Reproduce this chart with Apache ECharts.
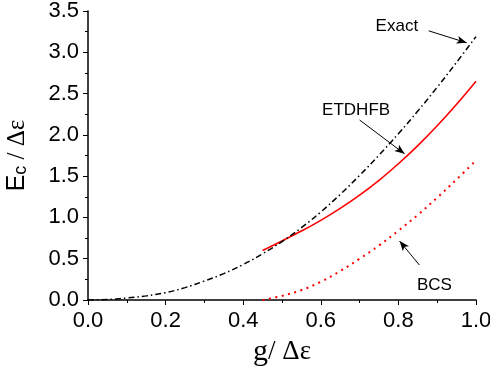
<!DOCTYPE html>
<html>
<head>
<meta charset="utf-8">
<script src="https://cdn.jsdelivr.net/npm/echarts@6/dist/echarts.min.js"></script>
<style>
  html, body { margin: 0; padding: 0; background: #fff; }
  #chart { width: 490px; height: 371px; }
</style>
</head>
<body>
<div id="chart"></div>
<script>
// Coupling strength g/Δε and correlation energy E_c/Δε
const gExact = [0, 0.05, 0.1, 0.15, 0.2, 0.25, 0.3, 0.35, 0.4, 0.45, 0.5,
                0.55, 0.6, 0.65, 0.7, 0.75, 0.8, 0.85, 0.9, 0.95, 1.0];
const exactEc = [0, 0.006, 0.024, 0.05, 0.089, 0.15, 0.23, 0.32, 0.43, 0.56, 0.707,
                 0.876, 1.066, 1.278, 1.509, 1.754, 2.014, 2.288, 2.577, 2.879, 3.19];

const gHigh = [0.45, 0.5, 0.55, 0.6, 0.65, 0.7, 0.75, 0.8, 0.85, 0.9, 0.95, 1.0];
const etdhfbEc = [0.60, 0.715, 0.835, 0.965, 1.11, 1.27, 1.45, 1.65, 1.87, 2.11, 2.37, 2.65];
const bcsEc = [0, 0.05, 0.12, 0.22, 0.35, 0.50, 0.66, 0.84, 1.03, 1.24, 1.46, 1.69];

const xTickLabels = ['0.0', '0.2', '0.4', '0.6', '0.8', '1.0'];
const yTickLabels = ['0.0', '0.5', '1.0', '1.5', '2.0', '2.5', '3.0', '3.5'];

// Curve names with their pointer arrows (in axis units)
const labelNames = ['Exact', 'ETDHFB', 'BCS'];
const labelAnchors = [[0.796, 3.31], [0.691, 2.297], [0.893, 0.176]];
const arrowFrom = [[0.878, 3.26], [0.70, 2.18], [0.854, 0.424]];
const arrowTo = [[0.976, 3.115], [0.816, 1.77], [0.803, 0.714]];

const pairs = (xs, ys) => xs.map((x, i) => [x, ys[i]]);

const sans = '"Liberation Sans", Arial, sans-serif';
const serif = '"Liberation Serif", "Times New Roman", serif';

const chart = echarts.init(document.getElementById('chart'), null, { renderer: 'canvas' });

const axisCommon = {
  axisLine: { show: true, onZero: false, lineStyle: { color: '#000', width: 1.5 } },
  splitLine: { show: false },
  minorSplitLine: { show: false }
};

chart.setOption({
  animation: false,
  backgroundColor: '#fff',
  grid: { left: 88, right: 14, top: 11, bottom: 71, containLabel: false, outerBoundsMode: 'none' },
  xAxis: Object.assign({}, axisCommon, {
    type: 'value', min: 0, max: 1.0, interval: 0.2,
    axisTick: { show: true, length: 5, lineStyle: { color: '#000', width: 1 } },
    minorTick: { show: true, splitNumber: 2, length: 3, lineStyle: { color: '#000', width: 1 } },
    axisLabel: {
      color: '#000', fontFamily: sans, fontSize: 22, margin: 10,
      formatter: v => xTickLabels[Math.round(v / 0.2)]
    },
    name: '{g|g}{r|/ Δε}',
    nameLocation: 'middle',
    nameGap: 36,
    nameTextStyle: {
      rich: {
        g: { fontFamily: serif, fontSize: 30, color: '#000' },
        r: { fontFamily: serif, fontSize: 27, color: '#000' }
      }
    }
  }),
  yAxis: Object.assign({}, axisCommon, {
    type: 'value', min: 0, max: 3.5, interval: 0.5,
    axisTick: { show: true, length: 5, lineStyle: { color: '#000', width: 1 } },
    minorTick: { show: true, splitNumber: 2, length: 3, lineStyle: { color: '#000', width: 1 } },
    axisLabel: {
      color: '#000', fontFamily: sans, fontSize: 22, margin: 9,
      formatter: v => yTickLabels[Math.round(v / 0.5)]
    },
    name: '{e|E}{c|c}{r| / Δε}',
    nameLocation: 'middle',
    nameRotate: 90,
    nameGap: 58,
    nameTextStyle: {
      rich: {
        e: { fontFamily: sans, fontSize: 25, color: '#000', verticalAlign: 'bottom', lineHeight: 26 },
        c: { fontFamily: sans, fontSize: 18, color: '#000', verticalAlign: 'bottom', lineHeight: 22 },
        r: { fontFamily: serif, fontSize: 25, color: '#000', verticalAlign: 'bottom', lineHeight: 26 }
      }
    }
  }),
  series: [
    {
      name: 'Exact',
      type: 'line',
      data: pairs(gExact, exactEc),
      smooth: 0.4,
      showSymbol: false,
      lineStyle: { color: '#000', width: 1.5, type: [6, 3, 1.5, 3] },
      markLine: {
        silent: true,
        symbol: ['none', 'arrow'],
        symbolSize: 9,
        label: { show: false },
        lineStyle: { color: '#000', width: 1, type: 'solid' },
        itemStyle: { color: '#000' },
        data: arrowFrom.map((p, i) => [
          { coord: p, symbol: 'none' },
          { coord: arrowTo[i], symbol: 'arrow', symbolSize: [6, 10] }
        ])
      },
      markPoint: {
        silent: true,
        symbol: 'circle',
        symbolSize: 0,
        label: {
          show: true, position: 'inside', color: '#000',
          fontFamily: sans, fontSize: 17,
          formatter: p => p.name
        },
        data: labelAnchors.map((p, i) => ({ name: labelNames[i], coord: p }))
      },
      z: 3
    },
    {
      name: 'ETDHFB',
      type: 'line',
      data: pairs(gHigh, etdhfbEc),
      smooth: 0.4,
      showSymbol: false,
      lineStyle: { color: '#ff0000', width: 1.6, type: 'solid' },
      z: 2
    },
    {
      name: 'BCS',
      type: 'line',
      data: pairs(gHigh, bcsEc),
      smooth: 0.4,
      showSymbol: false,
      lineStyle: { color: '#ff0000', width: 2, type: [2, 4.5] },
      z: 2
    }
  ]
});
</script>
</body>
</html>
